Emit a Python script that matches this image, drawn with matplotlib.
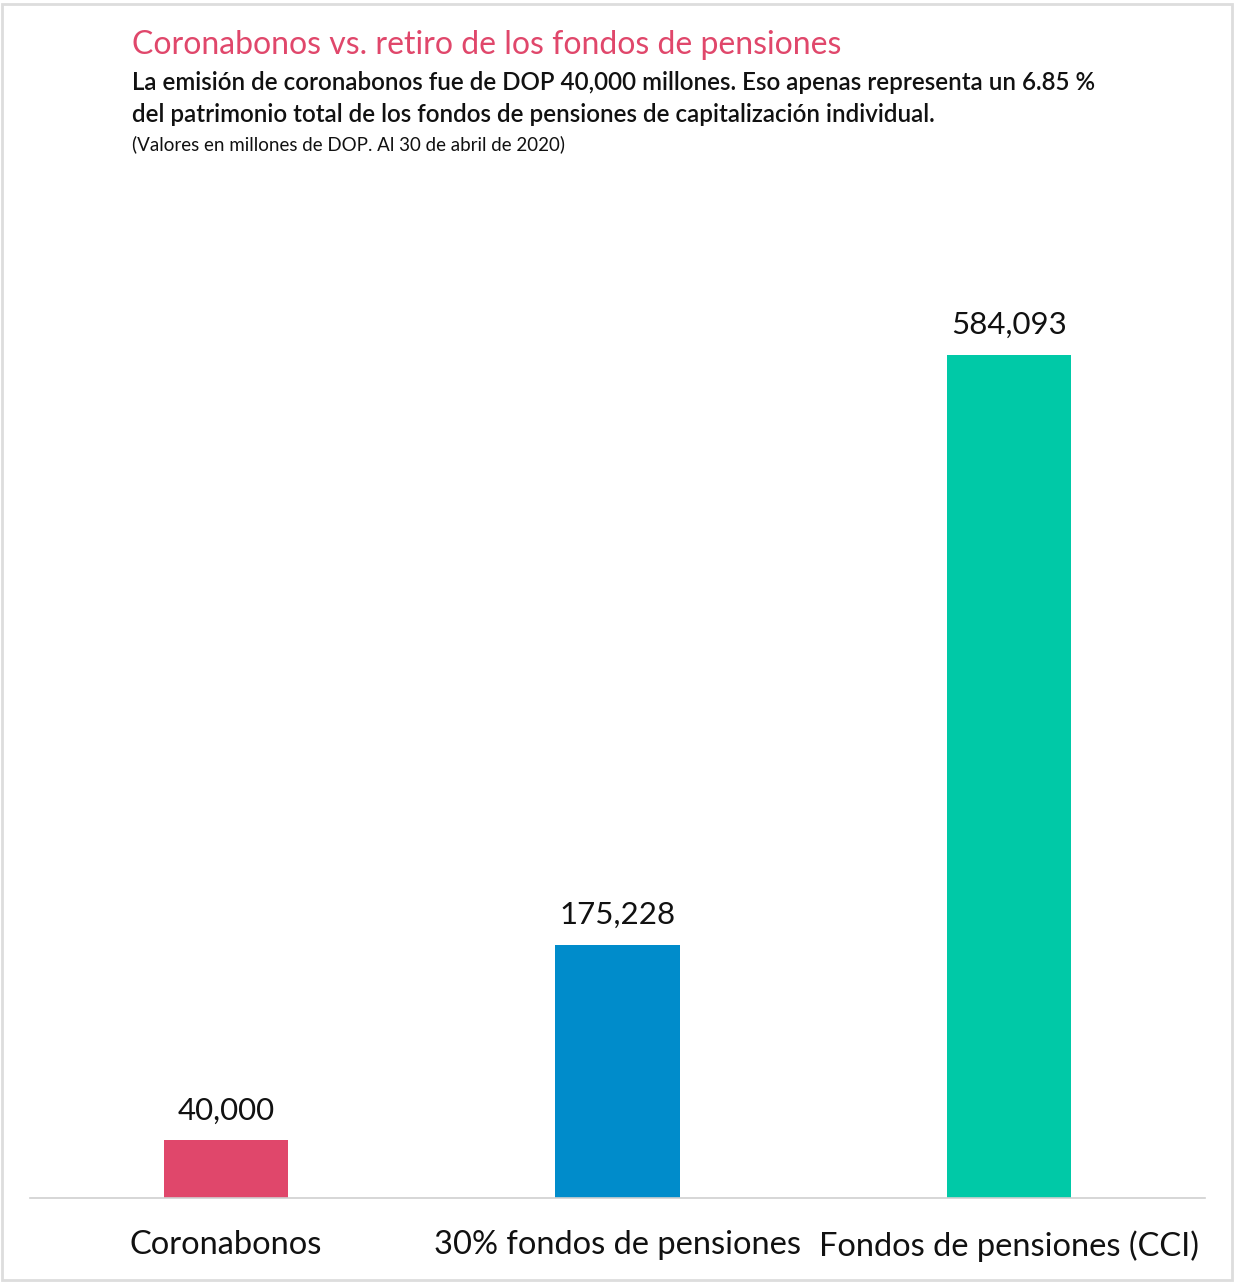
import matplotlib.pyplot as plt
from matplotlib.patches import Rectangle

# Datos del gráfico
categorias = ['Coronabonos', '30% fondos de pensiones', 'Fondos de pensiones (CCI)']
valores = [40000, 175228, 584093]
etiquetas = ['40,000', '175,228', '584,093']
colores = ['#E0476B', '#008CCB', '#00C9A7']

plt.rcParams['font.family'] = ['Lato', 'DejaVu Sans']

fig = plt.figure(figsize=(12.36, 12.82), dpi=100)
ax = fig.add_axes([30 / 1236, 84 / 1282, 1175 / 1236, 998 / 1282])

x = range(len(categorias))
ax.bar(x, valores, width=0.317, color=colores)

for i, v in enumerate(valores):
    ax.text(i, v + 11000, etiquetas[i], ha='center', va='bottom', fontsize=22.5, color='#111111')

ax.set_xlim(-0.5, 2.5)
ax.set_ylim(0, 691500)
ax.set_xticks(list(x))
ax.set_xticklabels(categorias, fontsize=23.5, color='#111111')
ax.tick_params(axis='x', length=0, pad=23)
ax.set_yticks([])
for s in ['top', 'right', 'left']:
    ax.spines[s].set_visible(False)
ax.spines['bottom'].set_color('#d0d0d0')
ax.spines['bottom'].set_linewidth(1.2)

# Títulos
fig.text(132 / 1236, 1 - 45 / 1282, 'Coronabonos vs. retiro de los fondos de pensiones',
         fontsize=23, color='#E0476B', va='center', ha='left')
fig.text(132 / 1236, 1 - 83 / 1282, 'La emisión de coronabonos fue de DOP 40,000 millones. Eso apenas representa un 6.85 %',
         fontsize=17.4, color='#111111', va='center', ha='left', fontweight='semibold')
fig.text(132 / 1236, 1 - 114 / 1282, 'del patrimonio total de los fondos de pensiones de capitalización individual.',
         fontsize=17.4, color='#111111', va='center', ha='left', fontweight='semibold')
fig.text(132 / 1236, 1 - 144 / 1282, '(Valores en millones de DOP. Al 30 de abril de 2020)',
         fontsize=13.5, color='#111111', va='center', ha='left')

# Marco
fig.patches.append(Rectangle((2 / 1236, 2 / 1282), 1230 / 1236, 1276 / 1282, transform=fig.transFigure,
                             fill=False, edgecolor='#dddddd', linewidth=2))

fig.savefig('out.png', dpi=100)
